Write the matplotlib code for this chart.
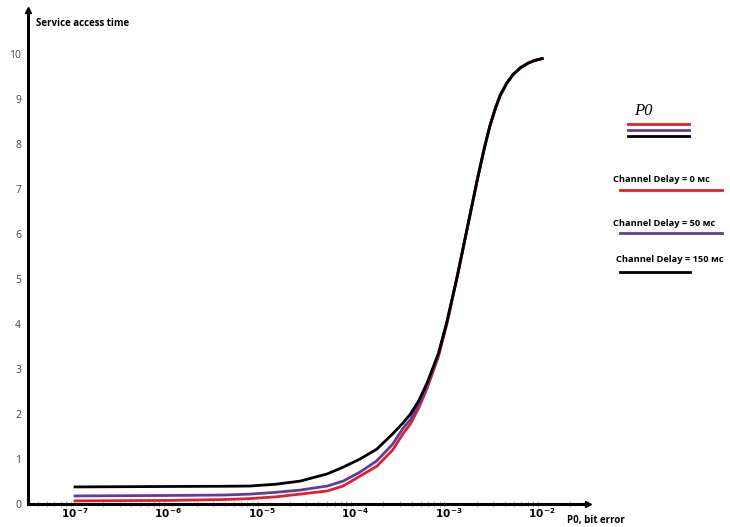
import numpy as np
import matplotlib.pyplot as plt
from matplotlib.lines import Line2D

plt.rcParams['font.family'] = ['Open Sans', 'DejaVu Sans']

# log10(P0) positions and service access time
log_p0 = [-7.0, -6.0, -5.40, -5.13, -4.85, -4.59, -4.30, -4.13, -3.95, -3.77, -3.60, -3.49, -3.41,
          -3.32, -3.23, -3.11, -3.02, -2.91, -2.80, -2.69, -2.62, -2.56, -2.50, -2.45,
          -2.38, -2.31, -2.23, -2.15, -2.08, -2.0]
t_150 = [0.38, 0.39, 0.395, 0.40, 0.44, 0.51, 0.67, 0.82, 1.00, 1.22, 1.56, 1.80, 2.00,
         2.30, 2.70, 3.35, 4.05, 5.05, 6.15, 7.25, 7.90, 8.40, 8.80, 9.08,
         9.35, 9.55, 9.70, 9.80, 9.86, 9.90]
t_50 = [0.18, 0.19, 0.20, 0.22, 0.26, 0.31, 0.40, 0.51, 0.71, 0.96, 1.33, 1.68, 1.88,
        2.22, 2.64, 3.32, 4.03, 5.05, 6.15, 7.25, 7.90, 8.40, 8.80, 9.08,
        9.35, 9.55, 9.70, 9.80, 9.86, 9.90]
t_0 = [0.07, 0.08, 0.10, 0.12, 0.16, 0.22, 0.29, 0.40, 0.62, 0.84, 1.20, 1.56, 1.78,
       2.14, 2.58, 3.28, 4.00, 5.04, 6.15, 7.25, 7.90, 8.40, 8.80, 9.08,
       9.35, 9.55, 9.70, 9.80, 9.86, 9.90]

tick_exp = [-7, -6, -5, -4, -3, -2]
y_ticks = [0, 1, 2, 3, 4, 5, 6, 7, 8, 9, 10]

red = '#e0202c'
purple = '#5e3f95'

fig = plt.figure(figsize=(7.3, 5.27), dpi=100)
ax = fig.add_axes([0.0384, 0.0436, 0.767, 0.9374])

x = 10 ** np.array(log_p0)
ax.plot(x, t_0, color=red, lw=2.0, solid_joinstyle='round')
ax.plot(x, t_50, color=purple, lw=2.0, solid_joinstyle='round')
ax.plot(x, t_150, color='black', lw=2.0, solid_joinstyle='round')

ax.set_xscale('log')
ax.set_xlim(10 ** -7.503, 10 ** -1.51)
ax.set_ylim(0, 10.98)

ax.spines['top'].set_visible(False)
ax.spines['right'].set_visible(False)
ax.spines['left'].set_linewidth(2.2)
ax.spines['bottom'].set_linewidth(2.2)

# arrow heads on the axes
ax.plot(1, 0, '>', color='black', ms=5, transform=ax.transAxes, clip_on=False)
ax.plot(0, 1, '^', color='black', ms=5, transform=ax.transAxes, clip_on=False)

ax.set_xticks([10.0 ** e for e in tick_exp])
ax.set_xticklabels([r'$\mathbf{10}^{\,\mathbf{%d}}$' % e for e in tick_exp], fontsize=7.5)
ax.tick_params(axis='x', which='major', length=0, pad=2)
ax.tick_params(axis='x', which='minor', length=4, width=0.5, color='#999999', direction='inout')
ax.set_yticks(y_ticks)
ax.set_yticklabels([str(v) for v in y_ticks], fontsize=7.5, color='#444444')
ax.tick_params(axis='y', length=0, pad=5)

fig.text(36 / 730, 1 - 24 / 527, 'Service access time', fontsize=7, fontweight='bold', va='center')
fig.text(567 / 730, 1 - 520 / 527, 'P0, bit error', fontsize=7, fontweight='bold', va='center')

# custom legend on the right
fig.text(634 / 730, 1 - 111 / 527, 'P0', fontsize=12, family='Liberation Serif', style='italic', va='center')
for py, c in [(124, red), (130, purple), (136, 'black')]:
    fig.add_artist(Line2D([628 / 730, 689 / 730], [1 - py / 527] * 2, color=c, lw=2))

items = [('Channel Delay = 0 мс', 613, 180, 190, red, 722),
         ('Channel Delay = 50 мс', 613, 223, 233, purple, 722),
         ('Channel Delay = 150 мс', 616, 260, 272, 'black', 690)]
for label, tx, ty, ly, c, x2 in items:
    fig.text(tx / 730, 1 - ty / 527, label, fontsize=6.7, fontweight='bold', va='center')
    fig.add_artist(Line2D([620 / 730, x2 / 730], [1 - ly / 527] * 2, color=c, lw=2))

fig.savefig('out.png', dpi=100)
